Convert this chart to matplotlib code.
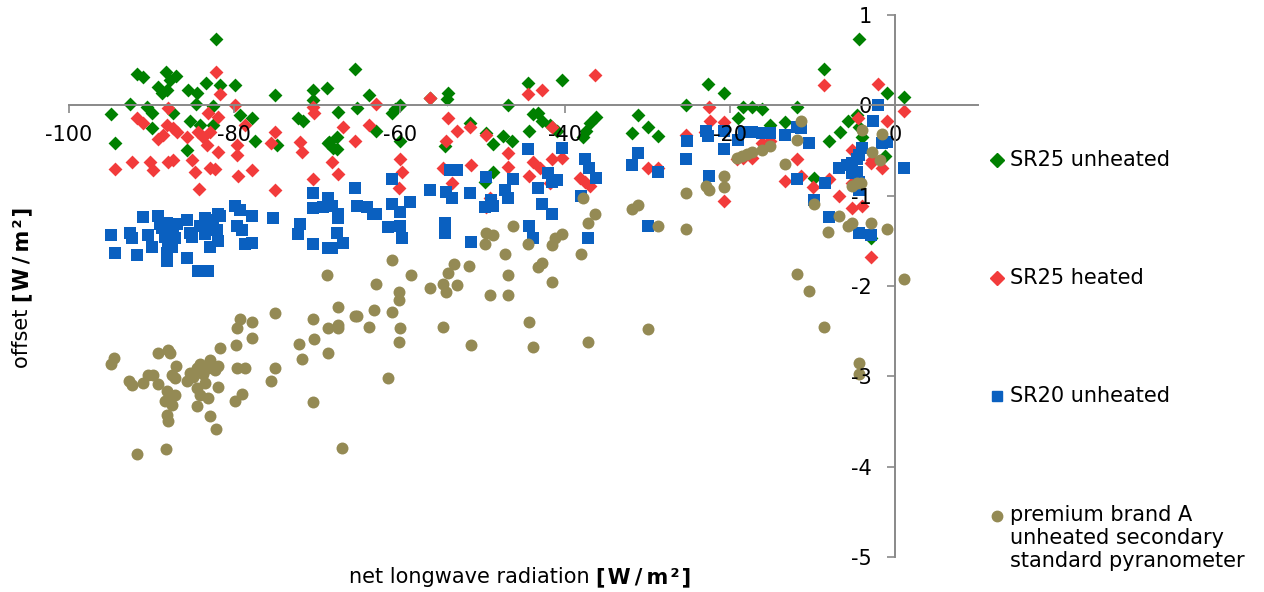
import matplotlib
matplotlib.use("Agg")
import matplotlib.pyplot as plt
from matplotlib.lines import Line2D

plt.rcParams["font.family"] = ["DejaVu Sans"]
plt.rcParams["font.size"] = 15
plt.rcParams["axes.unicode_minus"] = False

# net longwave radiation [W/m²] / offset [W/m²]
sr25_unheated_x = [
    -82.2, -91.8, -91.1, -88.3, -87.1, -87.8, -89.2, -88.8, -88.1, -85.6,
    -84.5, -83.4, -81.7, -79.9, -75.1, -70.5, -68.8, -92.6, -90.6, -94.9,
    -90.0, -87.4, -84.6, -82.6, -85.4, -84.2, -90.0, -79.3, -77.8, -77.5,
    -72.3, -71.7, -70.5, -94.4, -85.7, -82.6, -74.8, -68.7,
    -65.4, -63.7, -65.1, -67.4, -60.9, -60.0, -60.5, -62.9, -60.0, -68.6,
    -67.6, -67.6, -68.1, -56.3, -54.2, -54.3, -54.5, -51.5, -49.5, -48.7,
    -48.7, -49.7, -46.9, -47.5, -46.4, -44.5, -44.3, -43.9, -43.3, -42.8,
    -41.8, -41.0, -40.3, -37.8, -37.0, -36.2, -37.4,
    -31.2, -31.9, -29.9, -28.7, -25.3, -22.7, -20.7, -19.1, -18.4, -17.4,
    -16.1, -15.2, -13.4, -11.9, -8.6, -8.1, -6.7, -5.8, -4.7, -4.4,
    -4.0, -1.0, 1.0, -1.3, -9.8, -2.9, -4.4,
]
sr25_unheated_y = [
    0.73, 0.35, 0.31, 0.37, 0.33, 0.28, 0.20, 0.14, 0.17, 0.17,
    0.14, 0.25, 0.22, 0.23, 0.11, 0.17, 0.19, 0.01, -0.02, -0.10,
    -0.09, -0.09, 0.02, -0.01, -0.17, -0.22, -0.25, -0.11, -0.14, -0.39,
    -0.14, -0.17, 0.06, -0.42, -0.49, -0.22, -0.44, -0.42,
    0.40, 0.11, -0.03, -0.07, -0.08, 0.00, -0.04, -0.28, -0.39, -0.41,
    -0.35, -0.48, -0.47, 0.08, 0.14, 0.07, -0.45, -0.19, -0.31, -0.43,
    -0.74, -0.85, 0.00, -0.34, -0.40, 0.25, -0.28, -0.10, -0.08, -0.17,
    -0.22, -0.28, 0.28, -0.35, -0.19, -0.13, -0.28,
    -0.11, -0.31, -0.24, -0.34, 0.00, 0.24, 0.14, -0.14, -0.02, -0.02,
    -0.04, -0.22, -0.18, -0.02, 0.40, -0.40, -0.30, -0.17, -0.11, -0.24,
    -0.35, 0.14, 0.09, -0.56, -0.80, -1.47, 0.74,
]

sr25_heated_x = [
    -82.2, -81.7, -79.9, -88.0, -83.2, -82.0, -91.8, -91.1, -88.1, -87.4,
    -86.9, -89.2, -88.6, -85.7, -84.4, -83.8, -83.3, -83.0, -78.7, -79.7,
    -79.7, -82.0, -75.1, -75.5, -72.1, -71.8, -70.5, -70.3, -94.4, -92.4,
    -90.2, -89.8, -88.0, -87.4, -85.1, -84.8, -83.0, -82.3, -79.6, -77.8,
    -75.1, -70.5, -84.3,
    -62.9, -63.7, -66.9, -65.4, -68.2, -67.5, -56.3, -54.1, -53.1, -51.5,
    -54.4, -60.0, -59.7, -60.1, -54.8, -53.6, -51.3, -49.6, -46.9, -46.9,
    -49.1, -49.6, -44.5, -42.8, -36.3, -41.5, -43.9, -43.0, -44.4, -41.5,
    -40.4, -41.8, -38.2, -37.6, -37.0,
    -29.9, -28.7, -25.3, -22.6, -22.4, -20.8, -20.8, -23.0, -19.2, -18.5,
    -17.4, -16.2, -15.2, -11.9, -11.4, -13.4, -10.0, -8.1, -8.6, -6.8,
    -5.2, -4.5, -5.2, -5.2, -4.0, -2.9, -1.6, -1.0, -2.1, 1.0,
    -2.9, -2.8,
]
sr25_heated_y = [
    0.37, 0.13, 0.00, -0.03, -0.09, -0.13, -0.14, -0.20, -0.22, -0.25,
    -0.30, -0.37, -0.33, -0.35, -0.30, -0.35, -0.44, -0.30, -0.22, -0.44,
    -0.55, -0.52, -0.29, -0.42, -0.41, -0.52, -0.02, -0.09, -0.70, -0.63,
    -0.63, -0.72, -0.63, -0.61, -0.61, -0.74, -0.69, -0.70, -0.78, -0.72,
    -0.94, -0.82, -0.93,
    0.02, -0.22, -0.24, -0.40, -0.63, -0.76, 0.08, -0.14, -0.28, -0.24,
    -0.39, -0.59, -0.74, -0.91, -0.69, -0.86, -0.66, -0.33, -0.53, -0.68,
    -1.02, -1.13, 0.13, 0.17, 0.34, -0.24, -0.63, -0.69, -0.78, -0.59,
    -0.58, -0.86, -0.80, -0.85, -0.89,
    -0.69, -0.69, -0.33, -0.02, -0.17, -0.18, -1.06, -0.30, -0.59, -0.58,
    -0.58, -0.42, -0.39, -0.59, -0.78, -0.84, -0.90, -0.81, 0.22, -1.00,
    -0.49, -0.14, -0.86, -1.14, -1.11, -0.64, -0.69, -0.17, 0.24, -0.06,
    -1.68, -0.61,
]

sr20_unheated_x = [
    -94.9, -94.4, -92.6, -92.4, -91.8, -91.1, -90.4, -90.0, -89.2, -89.0,
    -88.8, -88.1, -87.8, -87.4, -88.4, -88.0, -87.5, -88.1, -88.1, -87.2,
    -86.9, -85.7, -85.4, -85.1, -85.7, -84.4, -83.2, -84.2, -83.6, -83.6,
    -83.0, -82.6, -82.1, -82.0, -83.0, -82.0, -81.7, -79.9, -79.3, -79.7,
    -79.1, -78.7, -77.8, -77.8, -75.3, -72.1, -72.3, -70.5, -70.5, -70.5,
    -69.3, -68.7,
    -68.7, -68.2, -67.5, -67.4, -67.6, -66.9, -68.2, -65.4, -65.1, -64.0,
    -63.2, -62.8, -60.9, -60.9, -60.0, -58.8, -61.4, -60.0, -59.7, -56.3,
    -54.4, -53.6, -54.5, -54.5, -53.9, -53.1, -51.5, -51.3, -49.6, -49.7,
    -48.9, -48.7, -47.3, -46.9, -46.3, -44.5, -43.3, -42.8, -44.4, -43.9,
    -42.1, -41.5, -40.9, -41.5, -40.3, -37.6, -37.1, -36.2, -38.0, -37.2,
    -31.9, -31.2, -29.9, -28.7, -25.3, -25.2, -22.7, -22.5, -22.9, -20.8,
    -20.8, -19.1, -18.3, -17.4, -16.1, -15.2, -13.4, -11.9, -11.4, -10.5,
    -11.9, -8.5, -9.8, -8.1, -6.8, -5.9, -5.2, -4.7, -4.4, -4.0,
    -5.2, -4.6, -4.4, -4.4, -2.9, -4.4, -2.7, -2.1, -1.6, -1.0,
    1.0,
]
sr20_unheated_y = [
    -1.43, -1.63, -1.41, -1.47, -1.66, -1.24, -1.44, -1.57, -1.22, -1.31,
    -1.36, -1.30, -1.35, -1.41, -1.46, -1.52, -1.57, -1.63, -1.72, -1.47,
    -1.31, -1.27, -1.41, -1.46, -1.69, -1.83, -1.83, -1.33, -1.25, -1.42,
    -1.33, -1.27, -1.38, -1.20, -1.57, -1.50, -1.22, -1.11, -1.16, -1.33,
    -1.38, -1.53, -1.52, -1.22, -1.25, -1.31, -1.42, -0.97, -1.14, -1.54,
    -1.13, -1.58,
    -1.03, -1.11, -1.20, -1.25, -1.41, -1.52, -1.58, -0.91, -1.11, -1.13,
    -1.20, -1.20, -0.81, -1.09, -1.18, -1.07, -1.35, -1.33, -1.47, -0.94,
    -0.96, -1.02, -1.30, -1.41, -0.72, -0.72, -0.97, -1.51, -0.79, -1.13,
    -1.05, -1.11, -0.94, -1.02, -0.81, -0.48, -0.91, -1.09, -1.33, -1.47,
    -0.75, -0.85, -0.83, -1.20, -0.47, -0.59, -0.69, -0.80, -1.00, -1.47,
    -0.66, -0.53, -1.33, -0.74, -0.59, -0.40, -0.34, -0.78, -0.28, -0.28,
    -0.48, -0.38, -0.30, -0.30, -0.31, -0.31, -0.33, -0.24, -0.25, -0.42,
    -0.81, -0.86, -1.05, -1.24, -0.69, -0.66, -0.64, -0.59, -0.55, -0.47,
    -0.75, -0.74, -0.85, -1.41, -1.44, -0.94, -0.17, 0.00, -0.42, -0.41,
    -0.69,
]

premium_a_x = [
    -94.9, -94.6, -92.7, -92.4, -91.8, -91.1, -90.4, -89.8, -89.2, -89.2,
    -88.0, -87.8, -87.5, -87.2, -87.1, -88.1, -87.8, -87.2, -88.4, -87.5,
    -88.1, -88.0, -88.3, -85.7, -85.4, -85.0, -84.5, -84.2, -83.8, -83.6,
    -83.2, -83.0, -82.3, -82.0, -82.0, -84.5, -84.2, -84.5, -83.2, -83.0,
    -82.2, -81.7, -79.8, -79.7, -79.3, -79.7, -78.7, -79.9, -79.1, -77.8,
    -77.8, -75.1, -75.1, -75.5, -72.2, -71.8, -70.5, -70.4, -70.5,
    -68.8, -68.7, -68.7, -67.4, -67.4, -67.5, -67.0, -65.4, -65.1, -63.7,
    -63.1, -62.9, -61.4, -60.9, -60.9, -60.1, -60.1, -59.9, -60.1, -58.6,
    -56.3, -54.7, -54.4, -54.1, -53.4, -53.1, -54.7, -51.6, -51.4, -49.7,
    -49.5, -48.7, -49.0, -46.9, -46.9, -47.3, -44.5, -44.4, -43.9, -43.3,
    -42.8, -41.6, -41.2, -40.4, -41.6, -38.1, -37.2, -37.8, -36.3, -37.2,
    -46.3,
    -31.9, -31.2, -28.7, -25.3, -25.3, -22.9, -22.5, -20.8, -20.8, -19.2,
    -18.6, -18.0, -17.4, -16.1, -15.2, -13.4, -11.4, -11.9, -9.8, -8.2,
    -6.8, -5.8, -5.2, -5.3, -4.6, -4.2, -4.0, -2.8, -1.9, -1.6,
    -2.9, -1.0, -11.9, -10.5, 1.0, -29.9, -8.6, -4.4, -4.4,
]
premium_a_y = [
    -2.86, -2.80, -3.05, -3.10, -3.86, -3.07, -2.99, -2.99, -3.08, -2.74,
    -2.71, -2.74, -2.99, -3.02, -2.88, -3.16, -3.21, -3.21, -3.27, -3.32,
    -3.43, -3.49, -3.80, -3.05, -2.96, -3.01, -2.91, -2.86, -2.97, -3.07,
    -2.91, -2.82, -2.93, -2.88, -3.12, -3.13, -3.21, -3.33, -3.24, -3.44,
    -3.58, -2.69, -2.65, -2.47, -2.37, -2.91, -2.91, -3.27, -3.19, -2.40,
    -2.57, -2.30, -2.91, -3.05, -2.64, -2.81, -2.36, -2.59, -3.28,
    -1.88, -2.47, -2.74, -2.23, -2.43, -2.46, -3.79, -2.33, -2.33, -2.45,
    -2.27, -1.98, -3.02, -1.71, -2.29, -2.07, -2.15, -2.47, -2.62, -1.88,
    -2.02, -1.98, -2.07, -1.86, -1.76, -1.99, -2.45, -1.78, -2.65, -1.54,
    -1.41, -1.44, -2.10, -2.10, -1.88, -1.65, -1.53, -2.40, -2.67, -1.79,
    -1.74, -1.55, -1.47, -1.42, -1.96, -1.64, -2.62, -1.03, -1.20, -1.30,
    -1.33,
    -1.15, -1.10, -1.33, -0.97, -1.37, -0.89, -0.94, -0.78, -0.90, -0.58,
    -0.56, -0.54, -0.52, -0.49, -0.45, -0.65, -0.17, -0.38, -1.09, -1.40,
    -1.22, -1.33, -1.30, -0.89, -0.86, -0.86, -0.27, -0.52, -0.61, -0.32,
    -1.30, -1.37, -1.87, -2.05, -1.92, -2.48, -2.45, -2.85, -2.97,
]

series_labels = [
    "SR25 unheated",
    "SR25 heated",
    "SR20 unheated",
    "premium brand A\nunheated secondary\nstandard pyranometer",
]
colors = ["#008000", "#F23B3B", "#0A60C0", "#948A54"]
markers = ["D", "D", "s", "o"]
sizes = [50, 50, 64, 74]
axis_grey = "#898989"

fig = plt.figure(figsize=(12.64, 5.92), dpi=100)
ax = fig.add_axes([0.0546, 0.0591, 0.7192, 0.9155])

all_x = [sr25_unheated_x, sr25_heated_x, sr20_unheated_x, premium_a_x]
all_y = [sr25_unheated_y, sr25_heated_y, sr20_unheated_y, premium_a_y]
for xs, ys, col, mk, sz in zip(all_x, all_y, colors, markers, sizes):
    ax.scatter(xs, ys, marker=mk, s=sz, c=col, linewidths=0, zorder=1)

ax.set_xlim(-100, 10)
ax.set_ylim(-5, 1)
ax.set_xticks(range(-100, 1, 20))
ax.set_yticks(range(-5, 2))

ax.spines["top"].set_visible(False)
ax.spines["right"].set_visible(False)
ax.spines["left"].set_position(("data", 0))
ax.spines["bottom"].set_position(("data", 0))
for side in ("left", "bottom"):
    ax.spines[side].set_color(axis_grey)
    ax.spines[side].set_linewidth(1.4)
ax.tick_params(axis="both", direction="out", length=6, width=1.2,
               color=axis_grey, labelsize=15, labelcolor="black")
ax.tick_params(axis="x", pad=8)
ax.tick_params(axis="y", pad=11)

# legend drawn by hand so the spacing matches the original
legend_ys = [0.7297, 0.5304, 0.3311, 0.1284]
for label, col, mk, ly in zip(series_labels, colors, markers, legend_ys):
    fig.add_artist(Line2D([0.7888], [ly], marker=mk, color=col, markersize=7.5,
                          linestyle="none", transform=fig.transFigure))
    if "\n" in label:
        fig.text(0.7991, ly + 0.0185, label, va="top", ha="left", fontsize=15,
                 linespacing=1.2)
    else:
        fig.text(0.7991, ly, label, va="center", ha="left", fontsize=15)

# axis titles: plain part + bold unit (thin spaces widen it like the original)
unit = "[\u200aW\u2009/\u2009m\u200a²\u200a]"
fig.canvas.draw()
renderer = fig.canvas.get_renderer()
inv = fig.transFigure.inverted()

t1 = fig.text(0.2761, 0.0253, "net longwave radiation ", va="center", ha="left")
bb = inv.transform(t1.get_window_extent(renderer))
fig.text(bb[1][0], 0.0253, unit, va="center", ha="left", fontweight="bold")

t2 = fig.text(0.0174, 0.3784, "offset ", va="bottom", ha="center", rotation=90)
bb = inv.transform(t2.get_window_extent(renderer))
fig.text(0.0174, bb[1][1], unit, va="bottom", ha="center", rotation=90,
         fontweight="bold")

fig.savefig("out.png", dpi=100)
